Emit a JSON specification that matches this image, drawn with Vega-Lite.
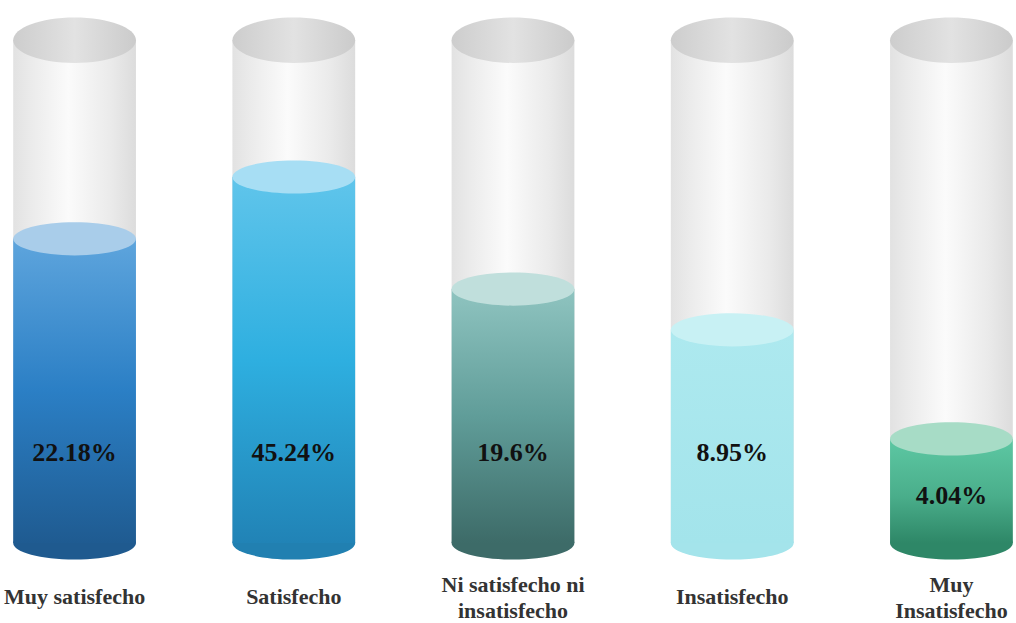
{
  "$schema": "https://vega.github.io/schema/vega-lite/v6.json",
  "autosize": "none",
  "width": 1004,
  "height": 543,
  "padding": {"left": 11, "top": 0, "right": 1, "bottom": 80},
  "background": "white",
  "view": {"stroke": null},
  "config": {"font": "Liberation Serif"},
  "data": {
    "values": [
      {"cat": "Muy satisfecho", "pct": "22.18%", "level": 60.5},
      {"cat": "Satisfecho", "pct": "45.24%", "level": 72.8},
      {"cat": "Ni satisfecho ni insatisfecho", "pct": "19.6%", "level": 50.5},
      {"cat": "Insatisfecho", "pct": "8.95%", "level": 42.4},
      {"cat": "Muy Insatisfecho", "pct": "4.04%", "level": 20.7}
    ]
  },
  "encoding": {
    "x": {
      "field": "cat",
      "type": "nominal",
      "sort": null,
      "scale": {
        "domain": ["Muy satisfecho", "Satisfecho", "Ni satisfecho ni insatisfecho", "Insatisfecho", "Muy Insatisfecho"],
        "paddingInner": 0.44,
        "paddingOuter": 0.01
      },
      "axis": {
        "title": null,
        "domain": false,
        "ticks": false,
        "tickSize": 0,
        "labelPadding": {
          "condition": {"test": "datum.value == 'Ni satisfecho ni insatisfecho' || datum.value == 'Muy Insatisfecho'", "value": 41},
          "value": 53
        },
        "labelAngle": 0,
        "labelBaseline": "middle",
        "labelFont": "Liberation Serif",
        "labelFontWeight": "bold",
        "labelFontSize": 22,
        "labelColor": "#333333",
        "labelLineHeight": 26,
        "labelLimit": 0,
        "labelOverlap": false,
        "labelExpr": "datum.value == 'Ni satisfecho ni insatisfecho' ? ['Ni satisfecho ni', 'insatisfecho'] : datum.value == 'Muy Insatisfecho' ? ['Muy', 'Insatisfecho'] : datum.value"
      }
    }
  },
  "layer": [
    {
      "mark": {
        "type": "bar",
        "color": {
          "gradient": "linear", "x1": 0, "y1": 0, "x2": 1, "y2": 0,
          "stops": [
            {"offset": 0, "color": "#e2e2e2"},
            {"offset": 0.15, "color": "#ebebeb"},
            {"offset": 0.45, "color": "#fbfbfb"},
            {"offset": 0.8, "color": "#eaeaea"},
            {"offset": 1, "color": "#dcdcdc"}
          ]
        }
      },
      "encoding": {
        "y": {"datum": 100, "type": "quantitative", "scale": {"domain": [0, 108], "nice": false}, "axis": null},
        "y2": {"datum": 0}
      }
    },
    {
      "mark": {
        "type": "point",
        "filled": true,
        "opacity": 1,
        "strokeWidth": 0,
        "size": 15080,
        "shape": "M -1 0 C -1 -0.2043 -0.5523 -0.37 0 -0.37 C 0.5523 -0.37 1 -0.2043 1 0 C 1 0.2043 0.5523 0.37 0 0.37 C -0.5523 0.37 -1 0.2043 -1 0 Z",
        "color": {
          "gradient": "linear", "x1": 0, "y1": 0, "x2": 1, "y2": 0,
          "stops": [
            {"offset": 0, "color": "#cdcdcd"},
            {"offset": 0.5, "color": "#e2e2e2"},
            {"offset": 1, "color": "#cbcbcb"}
          ]
        }
      },
      "encoding": {
        "y": {"datum": 100, "type": "quantitative", "scale": {"domain": [0, 108], "nice": false}, "axis": null}
      }
    },
    {
      "mark": {
        "type": "point",
        "filled": true,
        "opacity": 1,
        "strokeWidth": 0,
        "size": 15080,
        "shape": "M -1 0 C -1 -0.1491 -0.5523 -0.27 0 -0.27 C 0.5523 -0.27 1 -0.1491 1 0 C 1 0.1491 0.5523 0.27 0 0.27 C -0.5523 0.27 -1 0.1491 -1 0 Z"
      },
      "encoding": {
        "y": {"datum": 0, "type": "quantitative", "scale": {"domain": [0, 108], "nice": false}, "axis": null},
        "color": {
          "field": "cat", "type": "nominal", "legend": null,
          "scale": {
            "domain": ["Muy satisfecho", "Satisfecho", "Ni satisfecho ni insatisfecho", "Insatisfecho", "Muy Insatisfecho"],
            "range": ["#1f5a8f", "#2180b1", "#3d6b68", "#a4e4eb", "#2e8767"]
          }
        }
      }
    },
    {
      "transform": [{"filter": "datum.cat == 'Muy satisfecho'"}],
      "mark": {
        "type": "bar",
        "color": {
          "gradient": "linear", "x1": 0, "y1": 0, "x2": 0, "y2": 1,
          "stops": [
            {"offset": 0, "color": "#5ea5dd"},
            {"offset": 0.5, "color": "#2b7fc5"},
            {"offset": 1, "color": "#1f5b91"}
          ]
        }
      },
      "encoding": {
        "y": {"field": "level", "type": "quantitative", "scale": {"domain": [0, 108], "nice": false}, "axis": null},
        "y2": {"datum": 0}
      }
    },
    {
      "transform": [{"filter": "datum.cat == 'Satisfecho'"}],
      "mark": {
        "type": "bar",
        "color": {
          "gradient": "linear", "x1": 0, "y1": 0, "x2": 0, "y2": 1,
          "stops": [
            {"offset": 0, "color": "#60c5eb"},
            {"offset": 0.5, "color": "#2eafe0"},
            {"offset": 1, "color": "#2183b6"}
          ]
        }
      },
      "encoding": {
        "y": {"field": "level", "type": "quantitative", "scale": {"domain": [0, 108], "nice": false}, "axis": null},
        "y2": {"datum": 0}
      }
    },
    {
      "transform": [{"filter": "datum.cat == 'Ni satisfecho ni insatisfecho'"}],
      "mark": {
        "type": "bar",
        "color": {
          "gradient": "linear", "x1": 0, "y1": 0, "x2": 0, "y2": 1,
          "stops": [
            {"offset": 0, "color": "#8fc4c0"},
            {"offset": 0.5, "color": "#609d99"},
            {"offset": 1, "color": "#3d6b68"}
          ]
        }
      },
      "encoding": {
        "y": {"field": "level", "type": "quantitative", "scale": {"domain": [0, 108], "nice": false}, "axis": null},
        "y2": {"datum": 0}
      }
    },
    {
      "transform": [{"filter": "datum.cat == 'Insatisfecho'"}],
      "mark": {
        "type": "bar",
        "color": {
          "gradient": "linear", "x1": 0, "y1": 0, "x2": 0, "y2": 1,
          "stops": [
            {"offset": 0, "color": "#ade9ef"},
            {"offset": 1, "color": "#a3e4eb"}
          ]
        }
      },
      "encoding": {
        "y": {"field": "level", "type": "quantitative", "scale": {"domain": [0, 108], "nice": false}, "axis": null},
        "y2": {"datum": 0}
      }
    },
    {
      "transform": [{"filter": "datum.cat == 'Muy Insatisfecho'"}],
      "mark": {
        "type": "bar",
        "color": {
          "gradient": "linear", "x1": 0, "y1": 0, "x2": 0, "y2": 1,
          "stops": [
            {"offset": 0, "color": "#5dc8a3"},
            {"offset": 0.55, "color": "#4aae8b"},
            {"offset": 1, "color": "#2e8767"}
          ]
        }
      },
      "encoding": {
        "y": {"field": "level", "type": "quantitative", "scale": {"domain": [0, 108], "nice": false}, "axis": null},
        "y2": {"datum": 0}
      }
    },
    {
      "mark": {
        "type": "point",
        "filled": true,
        "opacity": 1,
        "strokeWidth": 0,
        "size": 15080,
        "shape": "M -1 0 C -1 -0.1491 -0.5523 -0.27 0 -0.27 C 0.5523 -0.27 1 -0.1491 1 0 C 1 0.1491 0.5523 0.27 0 0.27 C -0.5523 0.27 -1 0.1491 -1 0 Z"
      },
      "encoding": {
        "y": {"field": "level", "type": "quantitative", "scale": {"domain": [0, 108], "nice": false}, "axis": null},
        "color": {
          "field": "cat", "type": "nominal", "legend": null,
          "scale": {
            "domain": ["Muy satisfecho", "Satisfecho", "Ni satisfecho ni insatisfecho", "Insatisfecho", "Muy Insatisfecho"],
            "range": ["#a9cdea", "#a7def4", "#c0dfdc", "#c8f1f4", "#a7dcc6"]
          }
        }
      }
    },
    {
      "transform": [{"calculate": "min(18, datum.level / 2 - 1)", "as": "labelY"}],
      "mark": {
        "type": "text",
        "font": "Liberation Serif",
        "fontWeight": "bold",
        "fontSize": 26,
        "color": "#111111",
        "baseline": "middle",
        "align": "center"
      },
      "encoding": {
        "y": {"field": "labelY", "type": "quantitative", "scale": {"domain": [0, 108], "nice": false}, "axis": null},
        "text": {"field": "pct"}
      }
    }
  ],
  "resolve": {"scale": {"color": "independent"}}
}
